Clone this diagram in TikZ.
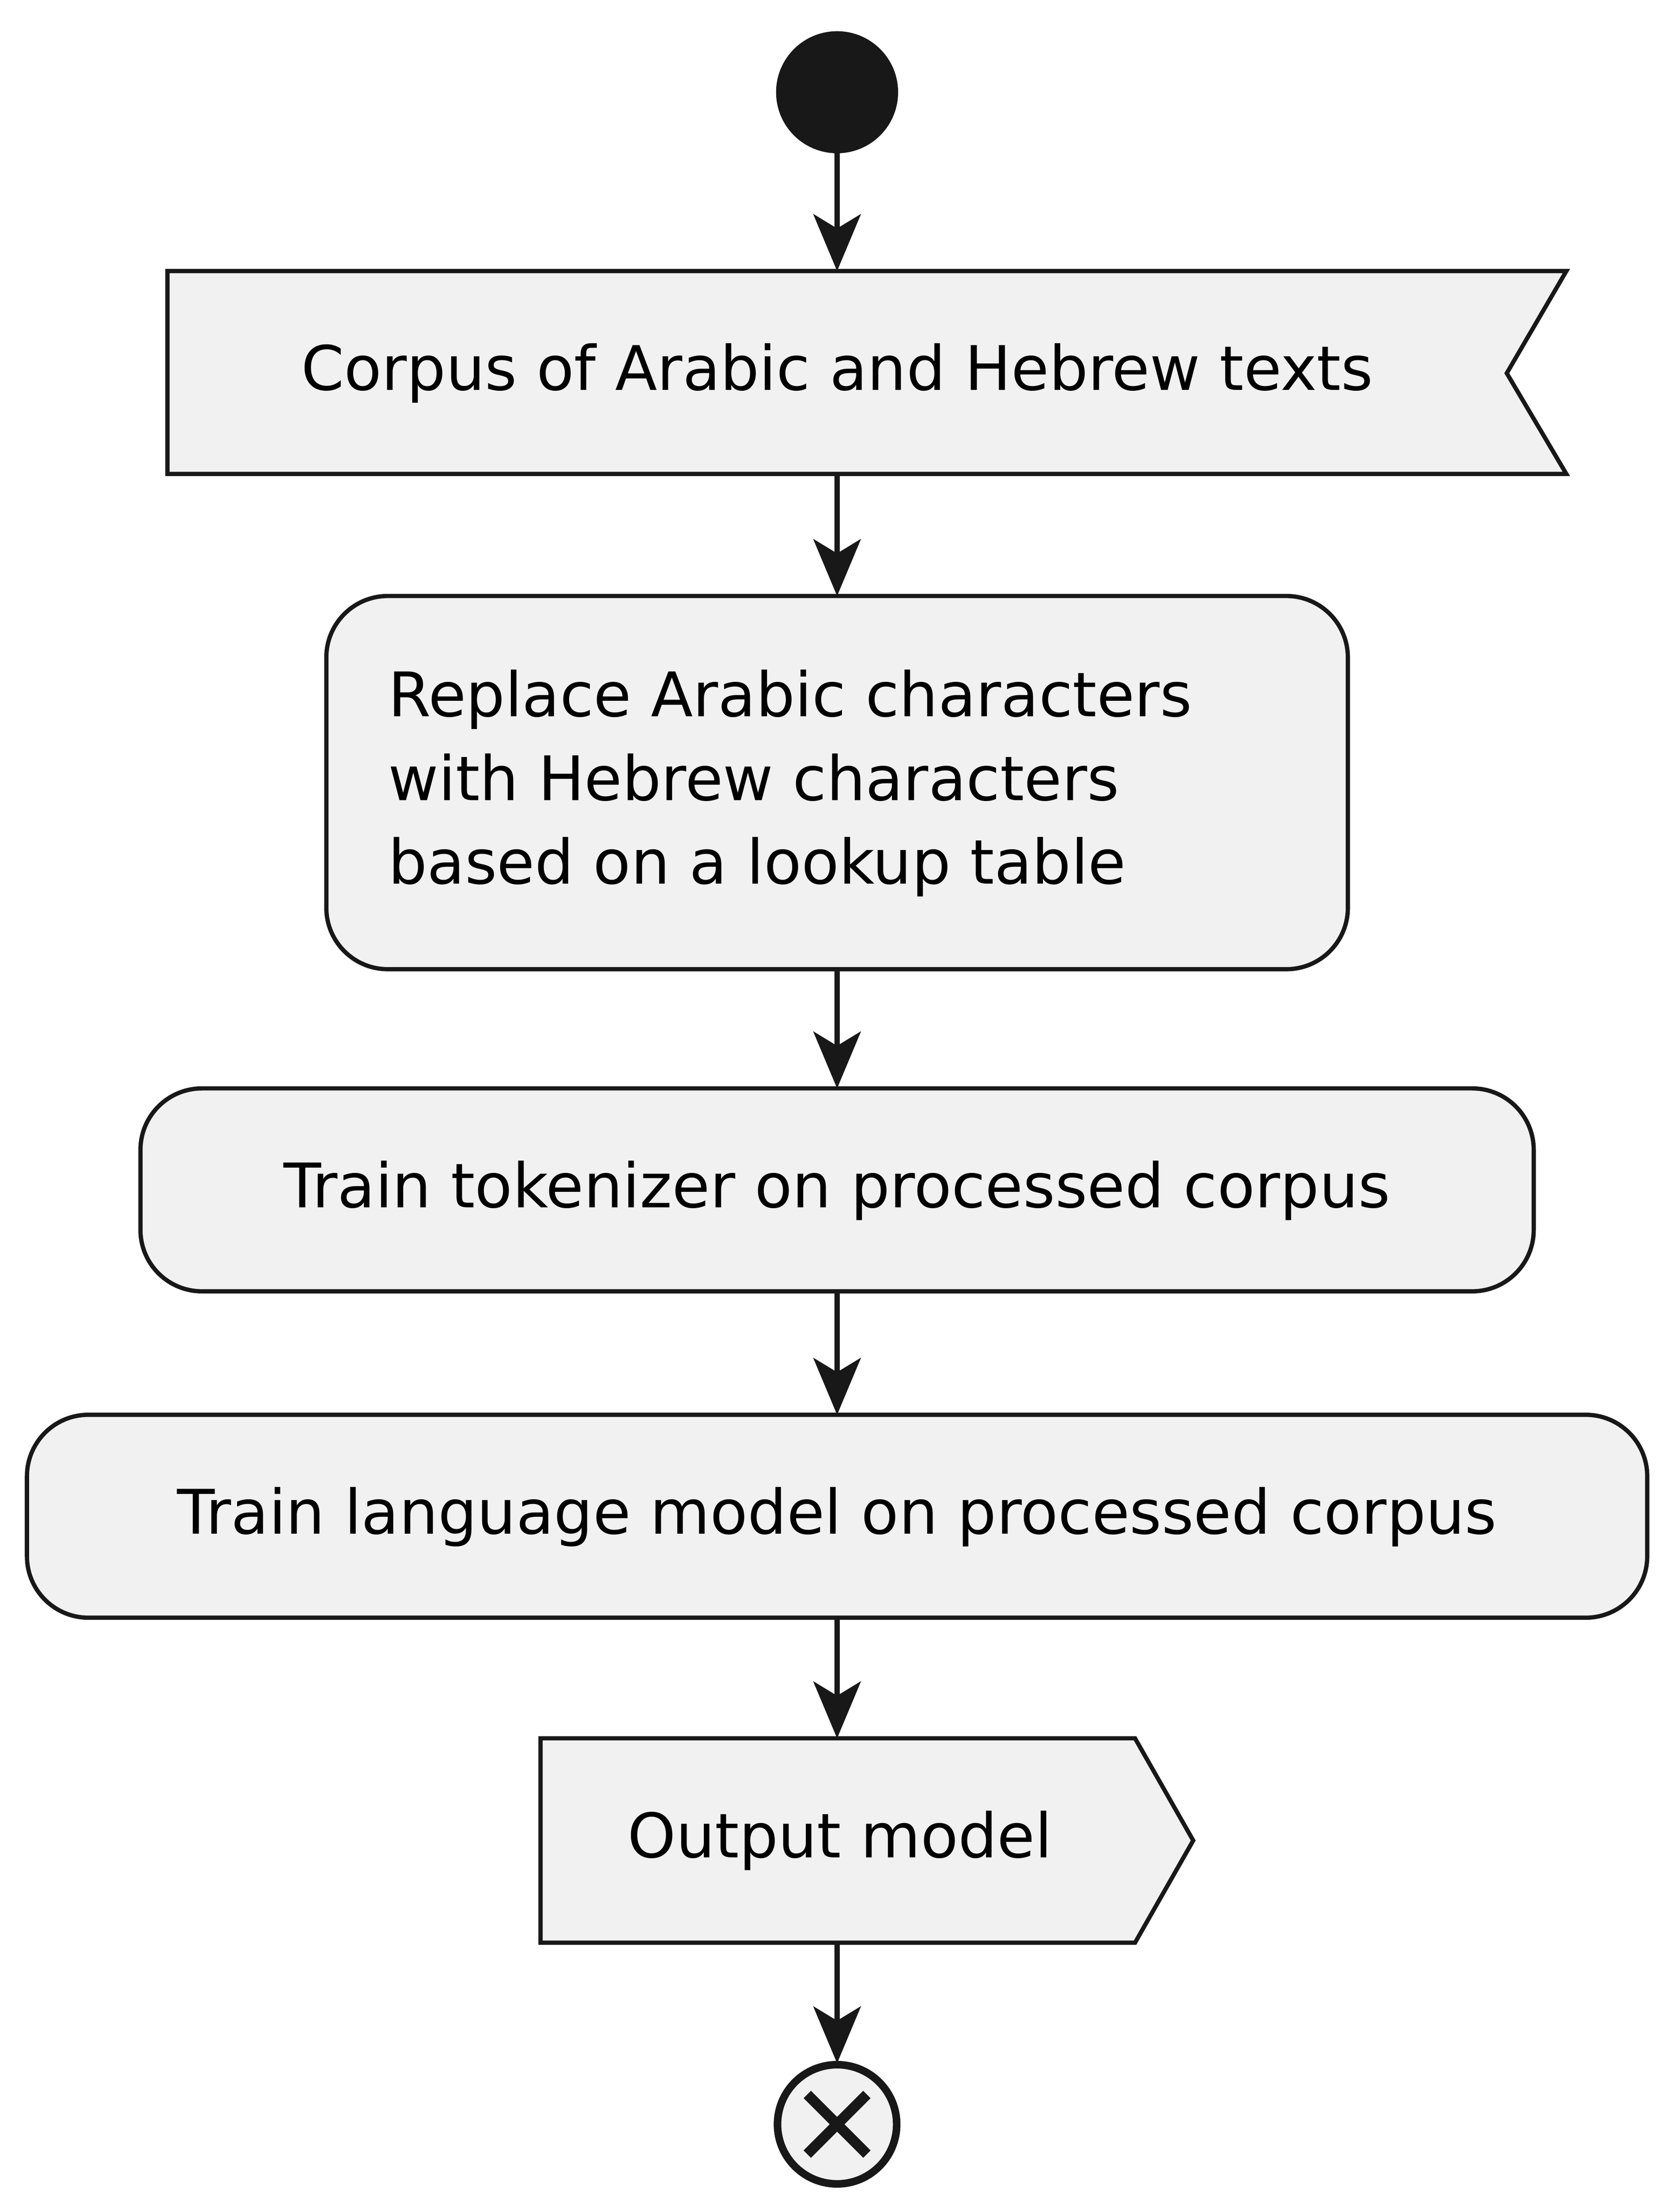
\documentclass[tikz,border=0pt]{standalone}
\usepackage{fontspec}
\setmainfont{DejaVu Sans}
\usetikzlibrary{arrows.meta}
\definecolor{bx}{HTML}{F1F1F1}
\definecolor{ln}{HTML}{181818}
\begin{document}
\begin{tikzpicture}[x=0.3pt,y=-0.3pt,
  shp/.style={fill=bx,draw=ln,line width=0.9pt},
  txt/.style={font=\fontsize{13}{17.7}\selectfont,text=black,align=left,inner sep=0},
  arr/.style={draw=ln,line width=1.1pt,-{Stealth[length=12pt,width=10pt,inset=3pt]}}]
\useasboundingbox (0,0) rectangle (1184,1556);
\fill[ln] (590,65) circle (43*0.3pt);
\coordinate (s) at (590,108);
% corpus
\draw[shp] (118,191) -- (1104,191) -- (1062,263) -- (1104,334) -- (118,334) -- cycle;
\node[txt] (c) at (590,263) {Corpus of Arabic and Hebrew texts};
\coordinate (ct) at (590,191); \coordinate (cb) at (590,334);
% replace
\draw[shp,rounded corners=13pt] (230,420) rectangle (950,683);
\node[txt,anchor=west] (r) at (273,552) {Replace Arabic characters\\with Hebrew characters\\based on a lookup table};
\coordinate (rt) at (590,420); \coordinate (rb) at (590,683);
% tokenizer
\draw[shp,rounded corners=13pt] (99,767) rectangle (1081,910);
\node[txt] (t) at (590,839) {Train tokenizer on processed corpus};
\coordinate (tt) at (590,767); \coordinate (tb) at (590,910);
% lm
\draw[shp,rounded corners=13pt] (19,997) rectangle (1161,1140);
\node[txt] (l) at (590,1069) {Train language model on processed corpus};
\coordinate (lt) at (590,997); \coordinate (lb) at (590,1140);
% output
\draw[shp] (381,1225) -- (800,1225) -- (841,1297) -- (800,1369) -- (381,1369) -- cycle;
\node[txt] (o) at (592,1297) {Output model};
\coordinate (ot) at (590,1225); \coordinate (ob) at (590,1369);
% end
\draw[ln,line width=1.6pt,fill=bx] (590,1497) circle (42*0.3pt);
\draw[ln,line width=2.2pt] (590,1497) ++(-21,-21) -- ++(42,42) (590,1497) ++(21,-21) -- ++(-42,42);
\coordinate (e) at (590,1454);
\draw[arr] (s) -- (ct);
\draw[arr] (cb) -- (rt);
\draw[arr] (rb) -- (tt);
\draw[arr] (tb) -- (lt);
\draw[arr] (lb) -- (ot);
\draw[arr] (ob) -- (e);
\end{tikzpicture}
\end{document}
